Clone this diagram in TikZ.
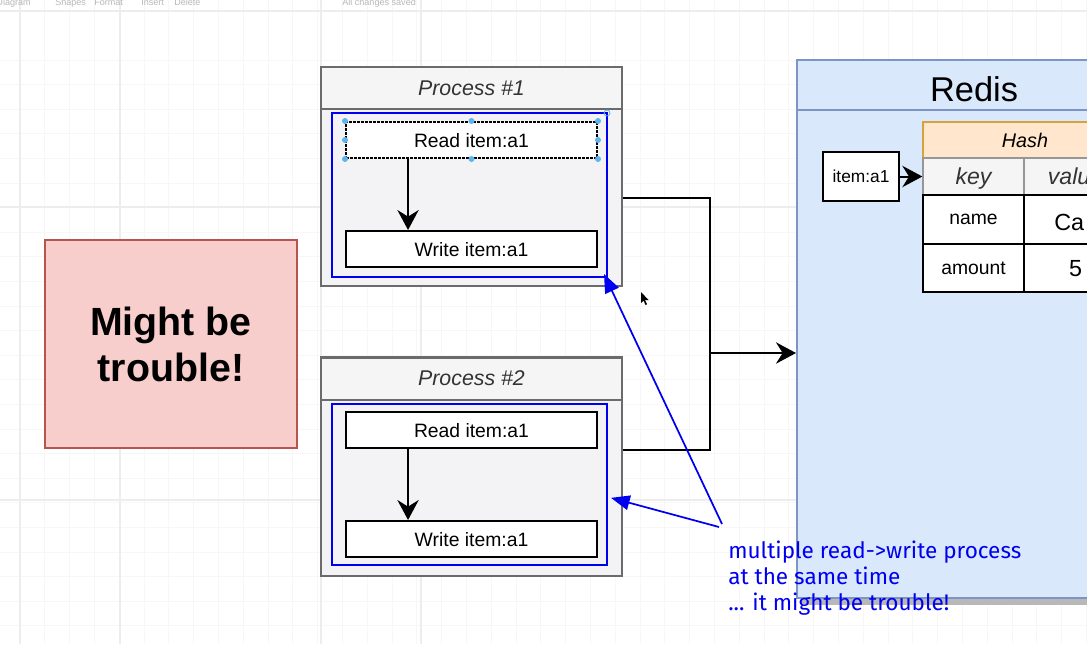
\documentclass[tikz,border=0pt]{standalone}
\usepackage{fontspec}
\setmainfont{Liberation Sans}
\newfontfamily\notefont{Fira Sans}
\usetikzlibrary{arrows.meta}

\definecolor{troublefill}{HTML}{F8CECC}
\definecolor{troubleline}{HTML}{B85450}
\definecolor{lanefill}{HTML}{F3F3F6}
\definecolor{laneline}{HTML}{6B6B6B}
\definecolor{headfill}{HTML}{F5F5F5}
\definecolor{storefill}{HTML}{DAE8FC}
\definecolor{storeline}{HTML}{7C95C4}
\definecolor{hashfill}{HTML}{FFE6CC}
\definecolor{hashline}{HTML}{D6A23A}
\definecolor{selblue}{HTML}{0000F0}
\definecolor{handle}{HTML}{5DB4EE}
\definecolor{darktext}{HTML}{333333}

\begin{document}
\begin{tikzpicture}[x=0.75pt,y=-0.75pt,
    trouble box/.style={draw=troubleline,fill=troublefill,line width=1.5pt,align=center,minimum width=189pt,minimum height=156pt,font=\bfseries\fontsize{29.5}{34.5}\selectfont},
    lane/.style={draw=laneline,fill=lanefill,line width=1.5pt,minimum width=225.75pt,minimum height=164.25pt},
    lane head/.style={draw=laneline,fill=headfill,line width=1.5pt,minimum width=225.75pt,minimum height=31.5pt,text depth=0pt,text=darktext,font=\itshape\fontsize{16}{19}\selectfont},
    sel/.style={draw=selblue,line width=1.5pt,minimum width=206.25pt},
    task box/.style={draw,fill=white,line width=1.5pt,minimum width=188.25pt,minimum height=27pt,text depth=0pt,font=\fontsize{14.5}{17}\selectfont},
    store/.style={draw=storeline,fill=storefill,line width=1.5pt,minimum width=265.5pt,minimum height=403.5pt},
    key box/.style={draw,fill=white,line width=1.5pt,minimum width=57pt,minimum height=36.75pt,font=\fontsize{13}{15}\selectfont},
    cell/.style={draw,fill=white,line width=1.5pt,minimum height=36.5pt,text depth=0pt,font=\fontsize{14.5}{17}\selectfont},
    head cell/.style={draw=laneline!70,fill=headfill,line width=1pt,minimum height=27.75pt,text depth=0pt,text=darktext,font=\itshape\fontsize{17.3}{20}\selectfont},
    flow/.style={line width=1.5pt},
    flow arrow/.style={line width=1.5pt,-{Stealth[length=15pt,width=16pt,inset=5pt]}},
    note arrow/.style={draw=selblue,line width=1.3pt,-{Triangle[length=14pt,width=11pt]}},
    note/.style={text=selblue,align=left,inner sep=0pt,font=\notefont\fontsize{16.9}{19.5}\selectfont},
    gridminor/.style={draw=black!3,line width=0.6pt},
    gridmajor/.style={draw=black!7,line width=0.8pt},
    toolbar/.style={text=black!28,inner sep=0pt,font=\fontsize{6.8}{8}\selectfont}]

    \useasboundingbox (0,0) rectangle (1087,644);
    \clip (0,0) rectangle (1087,644);
    \fill[white] (0,0) rectangle (1087,644);

    % background grid
    \foreach \gx in {0,...,43} {\draw[gridminor] (20+24.8*\gx,0) -- (20+24.8*\gx,644);}
    \foreach \gy in {0,...,24} {\draw[gridminor] (0,60+24.6*\gy) -- (1087,60+24.6*\gy);}
    \foreach \gx in {20,120,321,421} {\draw[gridmajor] (\gx,0) -- (\gx,644);}
    \foreach \gy in {11,207,500} {\draw[gridmajor] (0,\gy) -- (1087,\gy);}

    % toolbar (cut off)
    \node[toolbar,anchor=base east] (tbdiag) at (31,5) {Diagram};
    \node[toolbar,anchor=base west] (tbshapes) at (55,5) {Shapes};
    \node[toolbar,anchor=base west] (tbformat) at (94,5) {Format};
    \node[toolbar,anchor=base west] (tbinsert) at (141,5) {Insert};
    \node[toolbar,anchor=base west] (tbdelete) at (174,5) {Delete};
    \node[toolbar,anchor=base west] (tbsaved) at (342,5) {All changes saved};

    \node[trouble box] (trouble) at (171,344) {Might be\\trouble!};

    % process 1
    \node[lane] (p1) at (471.5,176.5) {};
    \node[lane head] (p1h) at (471.5,88) {Process \#1};
    \node[sel,minimum height=123pt] (p1sel) at (469.5,195) {};
    \node[task box,dashed,dash pattern=on 2pt off 1pt] (r1) at (471.5,140) {Read item:a1};
    \node[task box] (w1) at (471.5,249) {Write item:a1};
    \draw[flow arrow] ([xshift=-47.6pt]r1.south) -- ([xshift=-47.6pt]w1.north);
    \foreach \a in {north west,north,north east,east,south east,south,south west,west}
        {\fill[handle] (r1.\a) circle (3);}
    \draw[handle,line width=0.6pt] (607,113) circle (3);

    % process 2
    \node[lane] (p2) at (471.5,466.5) {};
    \node[lane head] (p2h) at (471.5,378.5) {Process \#2};
    \node[sel,minimum height=120.75pt] (p2sel) at (469.5,484.5) {};
    \node[task box] (r2) at (471.5,430) {Read item:a1};
    \node[task box] (w2) at (471.5,539) {Write item:a1};
    \draw[flow arrow] ([xshift=-47.6pt]r2.south) -- ([xshift=-47.6pt]w2.north);

    % redis
    \fill[black!28] (801,66) rectangle (1155,605);
    \node[store] (redis) at (974,329) {};
    \draw[draw=storeline,line width=1.5pt] (redis.west |- 0,110) -- (redis.east |- 0,110);
    \node[font=\fontsize{25.8}{30}\selectfont] (redistitle) at (974,89) {Redis};

    \node[key box] (item) at (861,176.5) {item:a1};
    \node[draw=hashline,fill=hashfill,line width=1.5pt,minimum width=153pt,minimum height=27pt,text depth=0pt,font=\itshape\fontsize{14.8}{17}\selectfont] (hash) at (1025,140) {Hash};
    \node[head cell,minimum width=75.75pt] (k0) at (973.5,176.5) {key};
    \node[head cell,minimum width=77.25pt] (v0) at (1075.5,176.5) {value};
    \node[cell,minimum width=75.75pt] (k1) at (973.5,219.5) {name};
    \node[cell,minimum width=77.25pt] (v1) at (1075.5,219.5) {};
    \node[anchor=west,inner sep=0pt,text depth=0pt,font=\fontsize{17.5}{20}\selectfont] (v1txt) at (1054,222) {Ca};
    \node[cell,minimum width=75.75pt] (k2) at (973.5,268) {amount};
    \node[cell,minimum width=77.25pt,font=\fontsize{17.5}{20}\selectfont] (v2) at (1075.5,268) {5};
    \draw[flow arrow] (item) -- (k0);

    % connectors to redis
    \coordinate (merge) at (710,353);
    \draw[flow] ([yshift=-16.1pt]p1.east) -| (merge);
    \draw[flow] ([yshift=12.4pt]p2.east) -| (merge);
    \draw[flow arrow] (merge) -- (merge -| redis.west);

    % annotation
    \coordinate (tipA) at (722,524);
    \coordinate (tipB) at (719,527);
    \draw[note arrow] (tipA) -- ([xshift=-3pt,yshift=3pt]p1sel.south east);
    \draw[note arrow] (tipB) -- ([xshift=2.25pt,yshift=-10pt]p2sel.east);
    \node[note,anchor=north west] (note) at (728,541) {multiple read->write process\\at the same time\\... it might be trouble!};

    % mouse pointer
    \fill (641,292) -- (641,303) -- (643.5,300.5) -- (645.5,305) -- (647,304.3) -- (645,300) -- (648.5,300) -- cycle;
\end{tikzpicture}
\end{document}
